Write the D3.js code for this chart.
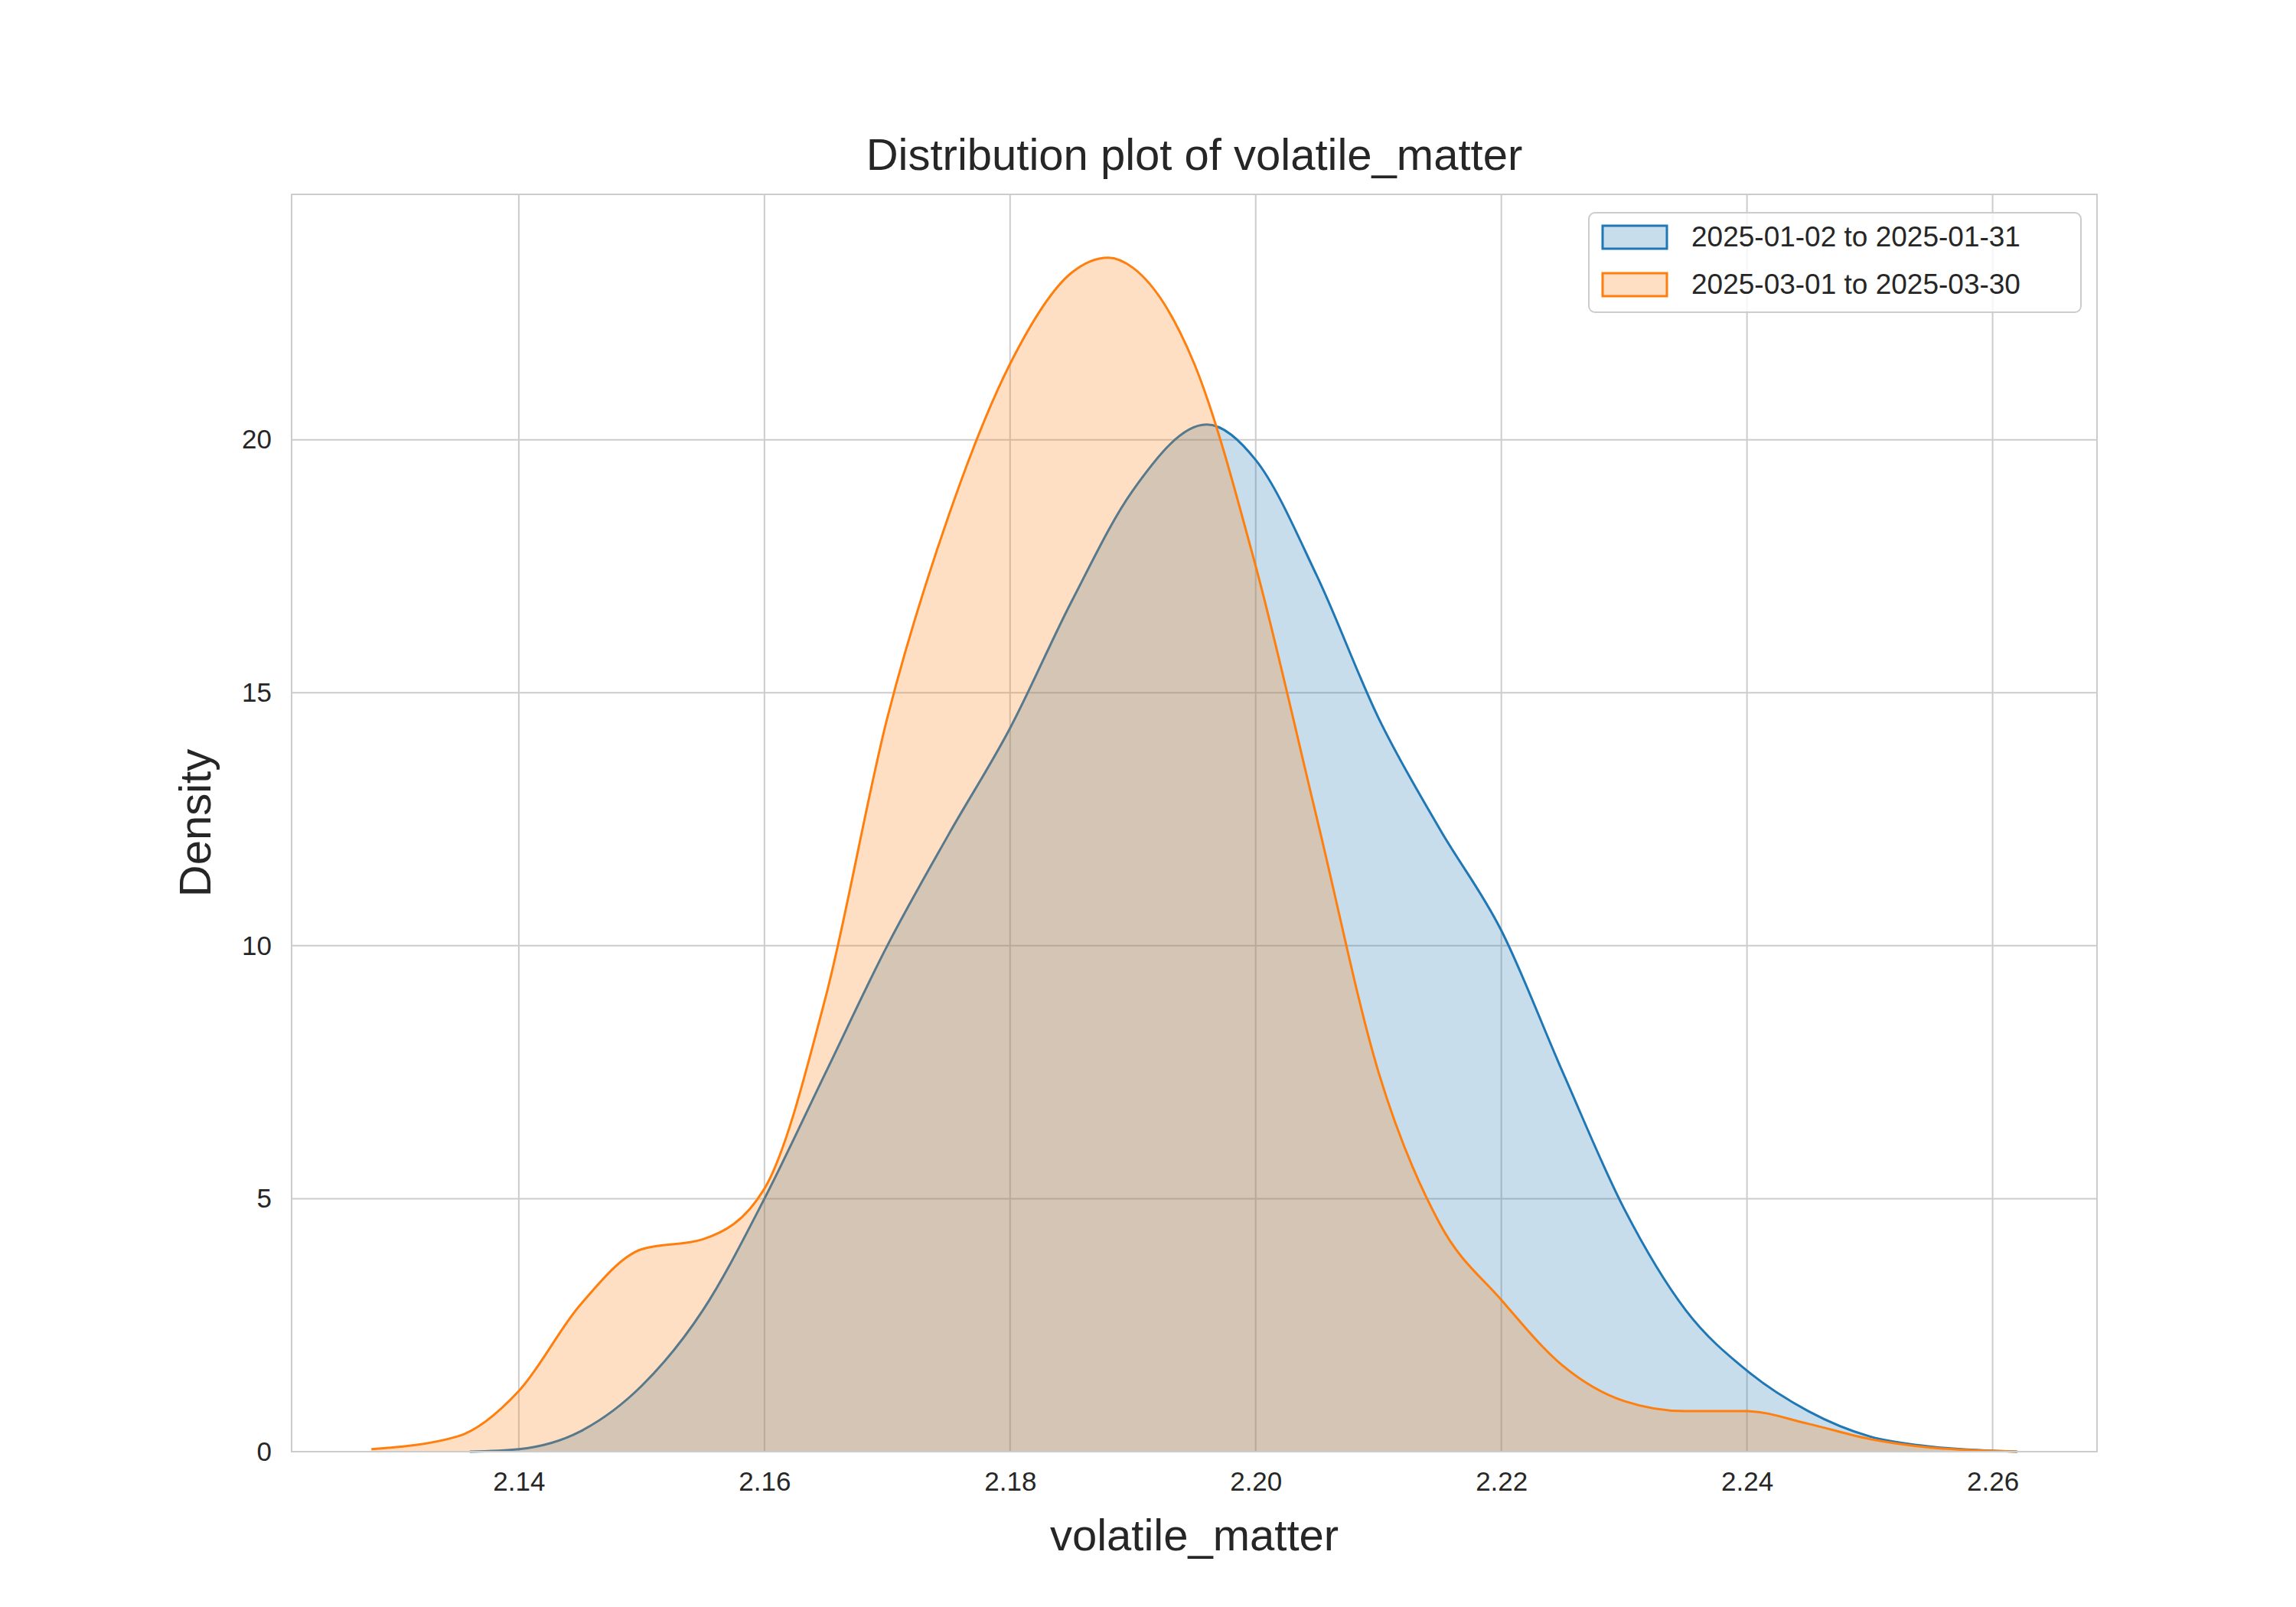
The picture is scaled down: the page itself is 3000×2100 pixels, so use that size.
<!DOCTYPE html><html><head><meta charset="utf-8"><script src="https://cdn.jsdelivr.net/npm/d3@7"></script>
<style>body{margin:0;background:#fff}</style></head><body><svg id="c" width="3000" height="2100"></svg><script>
const blueX=[2.136,2.14,2.145,2.15,2.155,2.16,2.165,2.17,2.175,2.18,2.185,2.19,2.196,2.2,2.205,2.21,2.215,2.22,2.225,2.23,2.235,2.24,2.245,2.25,2.255,2.262];
const blueY=[0,0.05,0.4,1.3,2.8,5.0,7.5,10.0,12.2,14.3,16.8,19.0,20.3,19.6,17.3,14.5,12.3,10.3,7.5,4.8,2.8,1.6,0.8,0.3,0.1,0];
const orangeX=[2.128,2.135,2.14,2.145,2.15,2.155,2.16,2.165,2.17,2.175,2.18,2.185,2.188,2.19,2.195,2.2,2.205,2.21,2.215,2.22,2.225,2.23,2.235,2.24,2.245,2.25,2.255,2.262];
const orangeY=[0.05,0.3,1.2,2.9,4.0,4.2,5.2,9,14.5,18.5,21.5,23.3,23.6,23.4,21.5,17.5,12.5,7.5,4.5,3.0,1.7,1.0,0.8,0.8,0.55,0.25,0.08,0];
const xTicks=[2.14,2.16,2.18,2.20,2.22,2.24,2.26];
const yTicks=[0,5,10,15,20];
const labels=["2025-01-02 to 2025-01-31","2025-03-01 to 2025-03-30"];
const L=381,R=2740,T=254,B=1897;
const svg=d3.select("#c"),F="Arial, Liberation Sans, sans-serif";
const x=d3.scaleLinear().domain([2.1215,2.2685]).range([L,R]);
const y=d3.scaleLinear().domain([0,24.85]).range([B,T]);
const g=svg.append("g");
xTicks.forEach(t=>g.append("line").attr("x1",x(t)).attr("x2",x(t)).attr("y1",T).attr("y2",B).attr("stroke","#cccccc").attr("stroke-width",2));
yTicks.forEach(t=>g.append("line").attr("x1",L).attr("x2",R).attr("y1",y(t)).attr("y2",y(t)).attr("stroke","#cccccc").attr("stroke-width",2));
const series=[{xs:blueX,ys:blueY,c:"#1f77b4",f:"rgba(31,119,180,0.25)"},{xs:orangeX,ys:orangeY,c:"#ff7f0e",f:"rgba(255,127,14,0.25)"}];
series.forEach(s=>{const d=s.xs.map((v,i)=>[v,s.ys[i]]);
 g.append("path").datum(d).attr("d",d3.area().x(p=>x(p[0])).y0(y(0)).y1(p=>y(p[1])).curve(d3.curveMonotoneX)).attr("fill",s.f);
 g.append("path").datum(d).attr("d",d3.line().x(p=>x(p[0])).y(p=>y(p[1])).curve(d3.curveMonotoneX)).attr("fill","none").attr("stroke",s.c).attr("stroke-width",3);});
g.append("rect").attr("x",L).attr("y",T).attr("width",R-L).attr("height",B-T).attr("fill","none").attr("stroke","#cccccc").attr("stroke-width",2);
const xa=svg.append("g").attr("transform",`translate(0,${B})`).call(d3.axisBottom(x).tickValues(xTicks).tickFormat(d3.format(".2f")).tickSize(0).tickPadding(26));
const ya=svg.append("g").attr("transform",`translate(${L},0)`).call(d3.axisLeft(y).tickValues(yTicks).tickSize(0).tickPadding(26));
[xa,ya].forEach(a=>{a.select(".domain").remove();a.selectAll("text").attr("font-family",F).attr("font-size",35).attr("fill","#262626");});
svg.append("text").attr("x",(L+R)/2).attr("y",222).attr("text-anchor","middle").attr("font-family",F).attr("font-size",58).attr("fill","#262626").text("Distribution plot of volatile_matter");
svg.append("text").attr("x",(L+R)/2).attr("y",2026).attr("text-anchor","middle").attr("font-family",F).attr("font-size",58).attr("fill","#262626").text("volatile_matter");
svg.append("text").attr("transform",`translate(275,${(T+B)/2}) rotate(-90)`).attr("text-anchor","middle").attr("font-family",F).attr("font-size",58).attr("fill","#262626").text("Density");
const lg=svg.append("g");
lg.append("rect").attr("x",2076).attr("y",278).attr("width",643).attr("height",130).attr("rx",8).attr("fill","#fff").attr("fill-opacity",0.8).attr("stroke","#cccccc").attr("stroke-width",2);
labels.forEach((t,i)=>{const yy=309+i*62;
 lg.append("rect").attr("x",2094).attr("y",yy-14).attr("width",84).attr("height",30).attr("fill",series[i].f).attr("stroke",series[i].c).attr("stroke-width",3);
 lg.append("text").attr("x",2210).attr("y",yy+13).attr("font-family",F).attr("font-size",37).attr("fill","#262626").text(t);});
</script></body></html>
